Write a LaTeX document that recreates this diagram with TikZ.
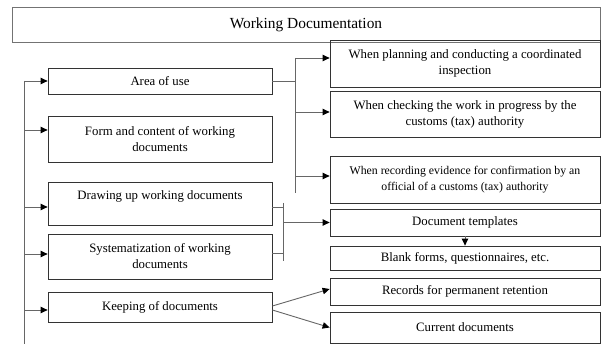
\documentclass[tikz,border=0pt]{standalone}
\usepackage{fontspec}
\setmainfont{Liberation Serif}
\usetikzlibrary{arrows.meta}
\begin{document}
\begin{tikzpicture}[x=1pt,y=-1pt,
  box/.style={draw=black!80, line width=0.8pt, inner sep=0pt, align=center, font=\fontsize{12.8}{16}\selectfont, text=black},
  conn/.style={draw=black!60, line width=0.9pt},
  arr/.style={conn, -{Triangle[length=7pt,width=6.5pt,color=black]}},
  lbl/.style={inner sep=0pt, align=center, font=\fontsize{12.8}{16}\selectfont}
]
\useasboundingbox (0,0) rectangle (601,344);
\fill[white] (0,0) rectangle (601,344);

% title
\node[box, draw=black!55, minimum width=588, minimum height=35, font=\fontsize{15.4}{18}\selectfont] (top) at (306,25) {Working Documentation};

% left column
\node[box, minimum width=224, minimum height=26] (a1) at (160,81) {Area of use};
\node[box, minimum width=224, minimum height=46] (a2) at (160,139) {Form and content of working\\documents};
\node[box, minimum width=224, minimum height=43] (a3) at (160,203.5) {};
\node[lbl] (a3t) at (160,196) {Drawing up working documents};
\node[box, minimum width=224, minimum height=45] (a4) at (160,256.5) {Systematization of working\\documents};
\node[box, minimum width=224, minimum height=30] (a5) at (160,307) {Keeping of documents};

% right column
\node[box, minimum width=270, minimum height=47] (r1) at (465,63.5) {When planning and conducting a coordinated\\inspection};
\node[box, minimum width=270, minimum height=46.5] (r2) at (465,114.25) {When checking the work in progress by the\\customs (tax) authority};
\node[box, minimum width=270, minimum height=47, font=\fontsize{11.8}{16}\selectfont] (r3) at (465,180) {When recording evidence for confirmation by an\\official of a customs (tax) authority};
\node[box, minimum width=270, minimum height=27] (r4) at (465,222.5) {Document templates};
\node[box, minimum width=270, minimum height=24] (r5) at (465,258) {Blank forms, questionnaires, etc.};
\node[box, minimum width=270, minimum height=27] (r6) at (465,291.5) {Records for permanent retention};
\node[box, minimum width=270, minimum height=31] (r7) at (465,327.5) {Current documents};

% left spine
\coordinate (spT) at (24,81);
\coordinate (spB) at (24,344);
\coordinate (y2) at (0,130);
\coordinate (y3) at (0,207);
\coordinate (y4) at (0,254);
\coordinate (y5) at (0,310);
\draw[conn] (spT) -- (spB);
\draw[arr] (spT) -- (a1.west);
\draw[arr] (spT |- y2) -- (a2.west |- y2);
\draw[arr] (spT |- y3) -- (a3.west |- y3);
\draw[arr] (spT |- y4) -- (a4.west |- y4);
\draw[arr] (spT |- y5) -- (a5.west |- y5);

% area of use branches
\coordinate (v1t) at (295,58);
\coordinate (v1b) at (295,193);
\coordinate (yr2) at (0,112);
\coordinate (yr3) at (0,176);
\draw[conn] (a1.east) -- (a1.east -| v1t);
\draw[conn] (v1t) -- (v1b);
\draw[arr] (v1t) -- (r1.west |- v1t);
\draw[arr] (v1t |- yr2) -- (r2.west |- yr2);
\draw[arr] (v1t |- yr3) -- (r3.west |- yr3);

% drawing up / systematization branches
\coordinate (v2t) at (283,203);
\coordinate (v2b) at (283,261);
\coordinate (yc3) at (0,207);
\coordinate (yc4) at (0,253);
\draw[conn] (v2t) -- (v2b);
\draw[conn] (a3.east |- yc3) -- (v2t |- yc3);
\draw[conn] (a4.east |- yc4) -- (v2t |- yc4);
\draw[arr] (v2t |- r4.west) -- (r4.west);
\draw[arr] (r4.south) -- (r5.north);

% keeping branches
\draw[arr] ([yshift=1pt]a5.east) -- ([yshift=2.5pt]r6.west);
\draw[arr] ([yshift=-3pt]a5.east) -- (r7.west);
\end{tikzpicture}
\end{document}
